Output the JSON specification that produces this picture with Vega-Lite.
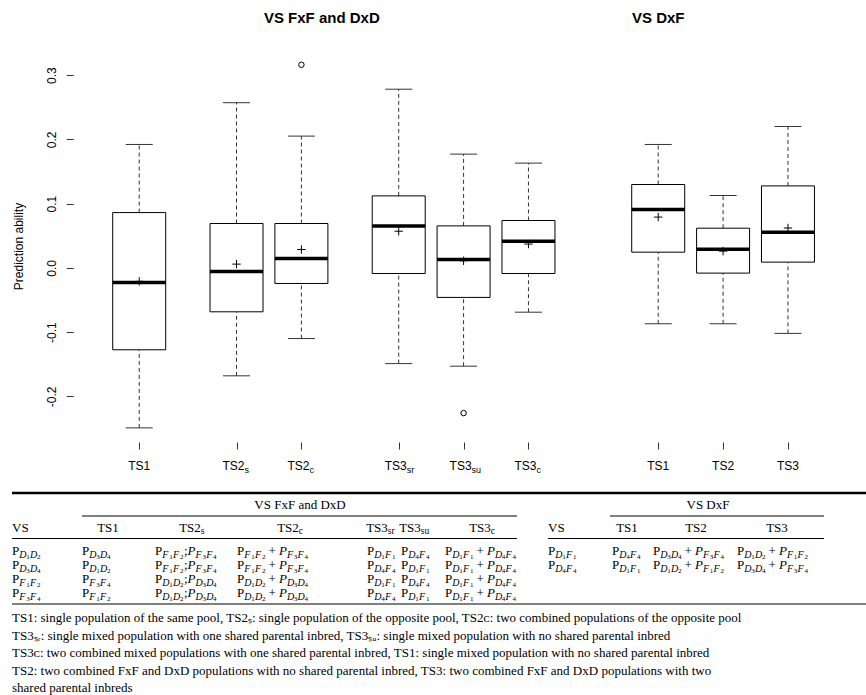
{
"$schema":"https://vega.github.io/schema/vega-lite/v6.json",
"width":866,"height":695,"autosize":{"type":"none"},"padding":0,"background":"white",
"config":{"view":{"stroke":null}},
"datasets":{
 "boxes":[
  {"pos":1,"lab":"TS1","sub":"","lo":-0.249,"q1":-0.1275,"med":-0.0227,"q3":0.086,"hi":0.192,"mean":-0.021},
  {"pos":2.5,"lab":"TS2","sub":"s","lo":-0.168,"q1":-0.0684,"med":-0.0056,"q3":0.069,"hi":0.257,"mean":0.0058},
  {"pos":3.5,"lab":"TS2","sub":"c","lo":-0.110,"q1":-0.0243,"med":0.0146,"q3":0.069,"hi":0.205,"mean":0.0286},
  {"pos":5,"lab":"TS3","sub":"sr","lo":-0.149,"q1":-0.0088,"med":0.0653,"q3":0.112,"hi":0.278,"mean":0.057},
  {"pos":6,"lab":"TS3","sub":"su","lo":-0.153,"q1":-0.046,"med":0.013,"q3":0.0653,"hi":0.177,"mean":0.011},
  {"pos":7,"lab":"TS3","sub":"c","lo":-0.069,"q1":-0.0088,"med":0.0415,"q3":0.0737,"hi":0.163,"mean":0.037},
  {"pos":9,"lab":"TS1","sub":"","lo":-0.087,"q1":0.0244,"med":0.0908,"q3":0.1297,"hi":0.192,"mean":0.079},
  {"pos":10,"lab":"TS2","sub":"","lo":-0.087,"q1":-0.0082,"med":0.029,"q3":0.0617,"hi":0.1126,"mean":0.026},
  {"pos":11,"lab":"TS3","sub":"","lo":-0.102,"q1":0.0089,"med":0.0555,"q3":0.1275,"hi":0.22,"mean":0.062}
 ],
 "outliers":[{"pos":3.5,"v":0.316},{"pos":6,"v":-0.226}],
 "ptitles":[{"pos":3.815,"t":"VS FxF and DxD"},{"pos":9.0,"t":"VS DxF"}],
 "thin":[{"r":2,"c1":1,"c2":14},{"r":2,"c1":16,"c2":24},{"r":4,"c1":0,"c2":14},{"r":4,"c1":15,"c2":24},{"r":9,"c1":0,"c2":25}],
 "thick":[{"r":0,"c1":0,"c2":25}],
 "tgroup":[{"r":1,"c":7,"t":"VS FxF and DxD"},{"r":1,"c":21,"t":"VS DxF"}],
 "thvs":[{"r":3,"c":0,"t":"VS"},{"r":3,"c":15,"t":"VS"}],
 "thplain":[{"r":3,"c":2,"t":"TS1"},{"r":3,"c":18,"t":"TS1"},{"r":3,"c":20,"t":"TS2"},{"r":3,"c":23,"t":"TS3"}],
 "thsub":[{"r":3,"c":4,"t":"TS2","s":"s"},{"r":3,"c":6,"t":"TS2","s":"c"},{"r":3,"c":9,"t":"TS3","s":"sr"},{"r":3,"c":11,"t":"TS3","s":"su"},{"r":3,"c":13,"t":"TS3","s":"c"}],
 "cells":[
  {"r":5,"c":0,"a1":"D","n1":"1","a2":"D","n2":"2","sep":"","b1":"","m1":"","b2":"","m2":""},
  {"r":5,"c":1,"a1":"D","n1":"3","a2":"D","n2":"4","sep":"","b1":"","m1":"","b2":"","m2":""},
  {"r":5,"c":3,"a1":"F","n1":"1","a2":"F","n2":"2","sep":";","b1":"F","m1":"3","b2":"F","m2":"4"},
  {"r":5,"c":5,"a1":"F","n1":"1","a2":"F","n2":"2","sep":"+","b1":"F","m1":"3","b2":"F","m2":"4"},
  {"r":5,"c":8,"a1":"D","n1":"1","a2":"F","n2":"1","sep":"","b1":"","m1":"","b2":"","m2":""},
  {"r":5,"c":10,"a1":"D","n1":"4","a2":"F","n2":"4","sep":"","b1":"","m1":"","b2":"","m2":""},
  {"r":5,"c":12,"a1":"D","n1":"1","a2":"F","n2":"1","sep":"+","b1":"D","m1":"4","b2":"F","m2":"4"},
  {"r":6,"c":0,"a1":"D","n1":"3","a2":"D","n2":"4","sep":"","b1":"","m1":"","b2":"","m2":""},
  {"r":6,"c":1,"a1":"D","n1":"1","a2":"D","n2":"2","sep":"","b1":"","m1":"","b2":"","m2":""},
  {"r":6,"c":3,"a1":"F","n1":"1","a2":"F","n2":"2","sep":";","b1":"F","m1":"3","b2":"F","m2":"4"},
  {"r":6,"c":5,"a1":"F","n1":"1","a2":"F","n2":"2","sep":"+","b1":"F","m1":"3","b2":"F","m2":"4"},
  {"r":6,"c":8,"a1":"D","n1":"4","a2":"F","n2":"4","sep":"","b1":"","m1":"","b2":"","m2":""},
  {"r":6,"c":10,"a1":"D","n1":"1","a2":"F","n2":"1","sep":"","b1":"","m1":"","b2":"","m2":""},
  {"r":6,"c":12,"a1":"D","n1":"1","a2":"F","n2":"1","sep":"+","b1":"D","m1":"4","b2":"F","m2":"4"},
  {"r":7,"c":0,"a1":"F","n1":"1","a2":"F","n2":"2","sep":"","b1":"","m1":"","b2":"","m2":""},
  {"r":7,"c":1,"a1":"F","n1":"3","a2":"F","n2":"4","sep":"","b1":"","m1":"","b2":"","m2":""},
  {"r":7,"c":3,"a1":"D","n1":"1","a2":"D","n2":"2","sep":";","b1":"D","m1":"3","b2":"D","m2":"4"},
  {"r":7,"c":5,"a1":"D","n1":"1","a2":"D","n2":"2","sep":"+","b1":"D","m1":"3","b2":"D","m2":"4"},
  {"r":7,"c":8,"a1":"D","n1":"1","a2":"F","n2":"1","sep":"","b1":"","m1":"","b2":"","m2":""},
  {"r":7,"c":10,"a1":"D","n1":"4","a2":"F","n2":"4","sep":"","b1":"","m1":"","b2":"","m2":""},
  {"r":7,"c":12,"a1":"D","n1":"1","a2":"F","n2":"1","sep":"+","b1":"D","m1":"4","b2":"F","m2":"4"},
  {"r":8,"c":0,"a1":"F","n1":"3","a2":"F","n2":"4","sep":"","b1":"","m1":"","b2":"","m2":""},
  {"r":8,"c":1,"a1":"F","n1":"1","a2":"F","n2":"2","sep":"","b1":"","m1":"","b2":"","m2":""},
  {"r":8,"c":3,"a1":"D","n1":"1","a2":"D","n2":"2","sep":";","b1":"D","m1":"3","b2":"D","m2":"4"},
  {"r":8,"c":5,"a1":"D","n1":"1","a2":"D","n2":"2","sep":"+","b1":"D","m1":"3","b2":"D","m2":"4"},
  {"r":8,"c":8,"a1":"D","n1":"4","a2":"F","n2":"4","sep":"","b1":"","m1":"","b2":"","m2":""},
  {"r":8,"c":10,"a1":"D","n1":"1","a2":"F","n2":"1","sep":"","b1":"","m1":"","b2":"","m2":""},
  {"r":8,"c":12,"a1":"D","n1":"1","a2":"F","n2":"1","sep":"+","b1":"D","m1":"4","b2":"F","m2":"4"},
  {"r":5,"c":15,"a1":"D","n1":"1","a2":"F","n2":"1","sep":"","b1":"","m1":"","b2":"","m2":""},
  {"r":5,"c":17,"a1":"D","n1":"4","a2":"F","n2":"4","sep":"","b1":"","m1":"","b2":"","m2":""},
  {"r":5,"c":19,"a1":"D","n1":"3","a2":"D","n2":"4","sep":"+","b1":"F","m1":"3","b2":"F","m2":"4"},
  {"r":5,"c":22,"a1":"D","n1":"1","a2":"D","n2":"2","sep":"+","b1":"F","m1":"1","b2":"F","m2":"2"},
  {"r":6,"c":15,"a1":"D","n1":"4","a2":"F","n2":"4","sep":"","b1":"","m1":"","b2":"","m2":""},
  {"r":6,"c":17,"a1":"D","n1":"1","a2":"F","n2":"1","sep":"","b1":"","m1":"","b2":"","m2":""},
  {"r":6,"c":19,"a1":"D","n1":"1","a2":"D","n2":"2","sep":"+","b1":"F","m1":"1","b2":"F","m2":"2"},
  {"r":6,"c":22,"a1":"D","n1":"3","a2":"D","n2":"4","sep":"+","b1":"F","m1":"3","b2":"F","m2":"4"}
 ],
 "foot":[
  {"r":10,"c":0,"t":"TS1: single population of the same pool, TS2ₛ: single population of the opposite pool, TS2ᴄ: two combined populations of the opposite pool"},
  {"r":11,"c":0,"t":"TS3ₛᵣ: single mixed population with one shared parental inbred, TS3ₛᵤ: single mixed population with no shared parental inbred"},
  {"r":12,"c":0,"t":"TS3ᴄ: two combined mixed populations with one shared parental inbred, TS1: single mixed population with no shared parental inbred"},
  {"r":13,"c":0,"t":"TS2: two combined FxF and DxD populations with no shared parental inbred, TS3: two combined FxF and DxD populations with two"},
  {"r":14,"c":0,"t":"shared parental inbreds"}
 ]
},
"layer":[
 {
  "encoding":{"x":{"field":"pos","type":"quantitative","scale":{"domain":[0.061,11.93],"range":[73.3,853.3],"nice":false,"zero":false},"axis":{"orient":"bottom","offset":-253,"values":[1,2.5,3.5,5,6,7,9,10,11],"labels":false,"domain":false,"ticks":true,"tickSize":7,"tickColor":"#333333","grid":false,"title":null}}},
  "layer":[
   {"data":{"values":[{}]},
    "mark":{"type":"rect","fillOpacity":0,"stroke":"black","strokeWidth":1},
    "encoding":{
     "x":{"datum":0.061,"type":"quantitative","scale":{"domain":[0.061,11.93],"range":[73.3,853.3],"nice":false,"zero":false},"axis":{"orient":"bottom","offset":-253,"values":[1,2.5,3.5,5,6,7,9,10,11],"labels":false,"domain":false,"ticks":true,"tickSize":7,"tickColor":"#333333","grid":false,"title":null}},
     "x2":{"datum":11.93},
     "y":{"datum":-0.271,"type":"quantitative","scale":{"domain":[-0.271,0.339],"range":[442,50],"nice":false,"zero":false},"axis":{"orient":"left","offset":-73.3,"values":[-0.2,-0.1,0,0.1,0.2,0.3],"domain":false,"ticks":true,"tickSize":7,"tickColor":"#333333","grid":false,"labelAngle":270,"labelAlign":"center","labelBaseline":"alphabetic","labelPadding":11,"labelFont":"Liberation Sans","labelFontSize":12,"labelColor":"black","labelExpr":"replace(format(datum.value,'.1f'),'−','-')","labelOverlap":false,"labelBound":false,"labelFlush":false,"title":"Prediction ability","titleFont":"Liberation Sans","titleFontSize":12,"titleFontWeight":"normal","titleColor":"black","titlePadding":20}},
     "y2":{"datum":0.339}
    }},
   {"data":{"name":"boxes"},
    "mark":{"type":"rule","stroke":"#333333","strokeWidth":1,"strokeDash":[4,3]},
    "encoding":{
     "y":{"field":"q3","type":"quantitative","scale":{"domain":[-0.271,0.339],"range":[442,50],"nice":false,"zero":false},"title":"Prediction ability"},
     "y2":{"field":"hi"}
    }},
   {"data":{"name":"boxes"},
    "mark":{"type":"rule","stroke":"#333333","strokeWidth":1,"strokeDash":[4,3]},
    "encoding":{
     "y":{"field":"lo","type":"quantitative","scale":{"domain":[-0.271,0.339],"range":[442,50],"nice":false,"zero":false},"title":"Prediction ability"},
     "y2":{"field":"q1"}
    }},
   {"data":{"name":"boxes"},
    "mark":{"type":"bar","width":53,"fill":"white","stroke":"black","strokeWidth":1},
    "encoding":{
     "y":{"field":"q1","type":"quantitative","scale":{"domain":[-0.271,0.339],"range":[442,50],"nice":false,"zero":false},"title":"Prediction ability"},
     "y2":{"field":"q3"}
    }},
   {"data":{"name":"boxes"},
    "mark":{"type":"tick","orient":"horizontal","size":53,"thickness":3.5,"color":"black","opacity":1},
    "encoding":{
     "y":{"field":"med","type":"quantitative","scale":{"domain":[-0.271,0.339],"range":[442,50],"nice":false,"zero":false},"title":"Prediction ability"}
    }},
   {"data":{"name":"boxes"},
    "mark":{"type":"tick","orient":"horizontal","size":27,"thickness":1,"color":"#333333","opacity":1},
    "encoding":{
     "y":{"field":"hi","type":"quantitative","scale":{"domain":[-0.271,0.339],"range":[442,50],"nice":false,"zero":false},"title":"Prediction ability"}
    }},
   {"data":{"name":"boxes"},
    "mark":{"type":"tick","orient":"horizontal","size":27,"thickness":1,"color":"#333333","opacity":1},
    "encoding":{
     "y":{"field":"lo","type":"quantitative","scale":{"domain":[-0.271,0.339],"range":[442,50],"nice":false,"zero":false},"title":"Prediction ability"}
    }},
   {"data":{"name":"boxes"},
    "mark":{"type":"point","shape":"M-1,0H1M0,-1V1","size":70,"filled":false,"stroke":"black","strokeWidth":1,"opacity":1},
    "encoding":{
     "y":{"field":"mean","type":"quantitative","scale":{"domain":[-0.271,0.339],"range":[442,50],"nice":false,"zero":false},"title":"Prediction ability"}
    }},
   {"data":{"name":"outliers"},
    "mark":{"type":"point","shape":"circle","size":30,"filled":false,"stroke":"black","strokeWidth":1,"opacity":1},
    "encoding":{
     "y":{"field":"v","type":"quantitative","scale":{"domain":[-0.271,0.339],"range":[442,50],"nice":false,"zero":false},"title":"Prediction ability"}
    }},
   {"data":{"name":"boxes"},
    "transform":[{"filter":"datum.sub === ''"}],
    "mark":{"type":"text","font":"Liberation Sans","fontSize":12,"color":"black","align":"center","baseline":"middle"},
    "encoding":{
     "y":{"datum":-0.3083,"type":"quantitative","scale":{"domain":[-0.271,0.339],"range":[442,50],"nice":false,"zero":false},"title":"Prediction ability"},
     "text":{"field":"lab"}
    }},
   {"data":{"name":"boxes"},
    "transform":[{"filter":"datum.sub !== ''"}],
    "mark":{"type":"text","font":"Liberation Sans","fontSize":12,"color":"black","align":"center","baseline":"middle","dx":-3},
    "encoding":{
     "y":{"datum":-0.3083,"type":"quantitative","scale":{"domain":[-0.271,0.339],"range":[442,50],"nice":false,"zero":false},"title":"Prediction ability"},
     "text":{"field":"lab"}
    }},
   {"data":{"name":"boxes"},
    "transform":[{"filter":"datum.sub !== ''"}],
    "mark":{"type":"text","font":"Liberation Sans","fontSize":9,"color":"black","align":"left","baseline":"middle","dx":8,"dy":4},
    "encoding":{
     "y":{"datum":-0.3083,"type":"quantitative","scale":{"domain":[-0.271,0.339],"range":[442,50],"nice":false,"zero":false},"title":"Prediction ability"},
     "text":{"field":"sub"}
    }},
   {"data":{"name":"ptitles"},
    "mark":{"type":"text","font":"Liberation Sans","fontSize":15,"fontWeight":"bold","color":"black","align":"center","baseline":"middle"},
    "encoding":{
     "y":{"datum":0.3888,"type":"quantitative","scale":{"domain":[-0.271,0.339],"range":[442,50],"nice":false,"zero":false},"title":"Prediction ability"},
     "text":{"field":"t"}
    }}
  ]
 },
 {
  "encoding":{
   "x":{"field":"c","type":"quantitative","scale":{"type":"linear","domain":[0,1,2,3,4,5,6,7,8,9,10,11,12,13,14,15,16,17,18,19,20,21,22,23,24,25],"range":[12,82,108,155,192,237,290,300,367,379,401,412,445,482,517,548,610,612,627,653,696,708,737,777,824,866],"nice":false,"zero":false},"axis":null},
   "y":{"field":"r","type":"quantitative","scale":{"type":"linear","domain":[0,1,2,3,4,5,6,7,8,9,10,11,12,13,14],"range":[493,505,516,528,538.5,551,565,579,593,604,618,635.5,653,670.5,688],"nice":false,"zero":false},"axis":null}
  },
  "layer":[
   {"data":{"name":"thick"},
    "mark":{"type":"rule","stroke":"black","strokeWidth":2.5},
    "encoding":{
     "x":{"field":"c1","type":"quantitative","scale":{"type":"linear","domain":[0,1,2,3,4,5,6,7,8,9,10,11,12,13,14,15,16,17,18,19,20,21,22,23,24,25],"range":[12,82,108,155,192,237,290,300,367,379,401,412,445,482,517,548,610,612,627,653,696,708,737,777,824,866],"nice":false,"zero":false},"axis":null},
     "x2":{"field":"c2"}
    }},
   {"data":{"name":"thin"},
    "mark":{"type":"rule","stroke":"black","strokeWidth":1},
    "encoding":{
     "x":{"field":"c1","type":"quantitative","scale":{"type":"linear","domain":[0,1,2,3,4,5,6,7,8,9,10,11,12,13,14,15,16,17,18,19,20,21,22,23,24,25],"range":[12,82,108,155,192,237,290,300,367,379,401,412,445,482,517,548,610,612,627,653,696,708,737,777,824,866],"nice":false,"zero":false},"axis":null},
     "x2":{"field":"c2"}
    }},
   {"data":{"name":"tgroup"},
    "mark":{"type":"text","font":"Liberation Serif","fontSize":13,"color":"black","align":"center","baseline":"middle"},
    "encoding":{"text":{"field":"t"}}},
   {"data":{"name":"thvs"},
    "mark":{"type":"text","font":"Liberation Serif","fontSize":13,"color":"black","align":"left","baseline":"middle"},
    "encoding":{"text":{"field":"t"}}},
   {"data":{"name":"thplain"},
    "mark":{"type":"text","font":"Liberation Serif","fontSize":13,"color":"black","align":"center","baseline":"middle"},
    "encoding":{"text":{"field":"t"}}},
   {"data":{"name":"thsub"},
    "mark":{"type":"text","font":"Liberation Serif","fontSize":13,"color":"black","align":"center","baseline":"middle","dx":-2},
    "encoding":{"text":{"field":"t"}}},
   {"data":{"name":"thsub"},
    "mark":{"type":"text","font":"Liberation Serif","fontSize":9.5,"color":"black","align":"left","baseline":"middle","dx":8.8,"dy":3},
    "encoding":{"text":{"field":"s"}}},
   {"data":{"name":"cells"},
    "mark":{"type":"text","font":"Liberation Serif","fontSize":13,"color":"black","align":"left","baseline":"middle"},
    "encoding":{"text":{"value":"P"}}},
   {"data":{"name":"cells"},
    "mark":{"type":"text","font":"Liberation Serif","fontSize":10,"fontStyle":"italic","color":"black","align":"left","baseline":"middle","dx":7.3,"dy":3.5},
    "encoding":{"text":{"field":"a1"}}},
   {"data":{"name":"cells"},
    "mark":{"type":"text","font":"Liberation Serif","fontSize":7,"color":"black","align":"left","baseline":"middle","dx":14.2,"dy":6},
    "encoding":{"text":{"field":"n1"}}},
   {"data":{"name":"cells"},
    "mark":{"type":"text","font":"Liberation Serif","fontSize":10,"fontStyle":"italic","color":"black","align":"left","baseline":"middle","dx":18,"dy":3.5},
    "encoding":{"text":{"field":"a2"}}},
   {"data":{"name":"cells"},
    "mark":{"type":"text","font":"Liberation Serif","fontSize":7,"color":"black","align":"left","baseline":"middle","dx":24.9,"dy":6},
    "encoding":{"text":{"field":"n2"}}},
   {"data":{"name":"cells"},
    "transform":[{"filter":"datum.sep === ';'"}],
    "mark":{"type":"text","font":"Liberation Serif","fontSize":13,"color":"black","align":"left","baseline":"middle","dx":29},
    "encoding":{"text":{"field":"sep"}}},
   {"data":{"name":"cells"},
    "transform":[{"filter":"datum.sep === ';'"}],
    "mark":{"type":"text","font":"Liberation Serif","fontSize":13,"fontStyle":"italic","color":"black","align":"left","baseline":"middle","dx":32.6},
    "encoding":{"text":{"value":"P"}}},
   {"data":{"name":"cells"},
    "transform":[{"filter":"datum.sep === ';'"}],
    "mark":{"type":"text","font":"Liberation Serif","fontSize":10,"fontStyle":"italic","color":"black","align":"left","baseline":"middle","dx":40.5,"dy":3.5},
    "encoding":{"text":{"field":"b1"}}},
   {"data":{"name":"cells"},
    "transform":[{"filter":"datum.sep === ';'"}],
    "mark":{"type":"text","font":"Liberation Serif","fontSize":7,"color":"black","align":"left","baseline":"middle","dx":47.4,"dy":6},
    "encoding":{"text":{"field":"m1"}}},
   {"data":{"name":"cells"},
    "transform":[{"filter":"datum.sep === ';'"}],
    "mark":{"type":"text","font":"Liberation Serif","fontSize":10,"fontStyle":"italic","color":"black","align":"left","baseline":"middle","dx":51.2,"dy":3.5},
    "encoding":{"text":{"field":"b2"}}},
   {"data":{"name":"cells"},
    "transform":[{"filter":"datum.sep === ';'"}],
    "mark":{"type":"text","font":"Liberation Serif","fontSize":7,"color":"black","align":"left","baseline":"middle","dx":58.1,"dy":6},
    "encoding":{"text":{"field":"m2"}}},
   {"data":{"name":"cells"},
    "transform":[{"filter":"datum.sep === '+'"}],
    "mark":{"type":"text","font":"Liberation Serif","fontSize":13,"color":"black","align":"left","baseline":"middle","dx":31.5},
    "encoding":{"text":{"field":"sep"}}},
   {"data":{"name":"cells"},
    "transform":[{"filter":"datum.sep === '+'"}],
    "mark":{"type":"text","font":"Liberation Serif","fontSize":13,"fontStyle":"italic","color":"black","align":"left","baseline":"middle","dx":42},
    "encoding":{"text":{"value":"P"}}},
   {"data":{"name":"cells"},
    "transform":[{"filter":"datum.sep === '+'"}],
    "mark":{"type":"text","font":"Liberation Serif","fontSize":10,"fontStyle":"italic","color":"black","align":"left","baseline":"middle","dx":49.9,"dy":3.5},
    "encoding":{"text":{"field":"b1"}}},
   {"data":{"name":"cells"},
    "transform":[{"filter":"datum.sep === '+'"}],
    "mark":{"type":"text","font":"Liberation Serif","fontSize":7,"color":"black","align":"left","baseline":"middle","dx":56.8,"dy":6},
    "encoding":{"text":{"field":"m1"}}},
   {"data":{"name":"cells"},
    "transform":[{"filter":"datum.sep === '+'"}],
    "mark":{"type":"text","font":"Liberation Serif","fontSize":10,"fontStyle":"italic","color":"black","align":"left","baseline":"middle","dx":60.6,"dy":3.5},
    "encoding":{"text":{"field":"b2"}}},
   {"data":{"name":"cells"},
    "transform":[{"filter":"datum.sep === '+'"}],
    "mark":{"type":"text","font":"Liberation Serif","fontSize":7,"color":"black","align":"left","baseline":"middle","dx":67.5,"dy":6},
    "encoding":{"text":{"field":"m2"}}},
   {"data":{"name":"foot"},
    "mark":{"type":"text","font":"Liberation Serif","fontSize":13,"color":"black","align":"left","baseline":"middle"},
    "encoding":{"text":{"field":"t"}}}
  ]
 }
],
"resolve":{"scale":{"x":"independent","y":"independent"}}
}
